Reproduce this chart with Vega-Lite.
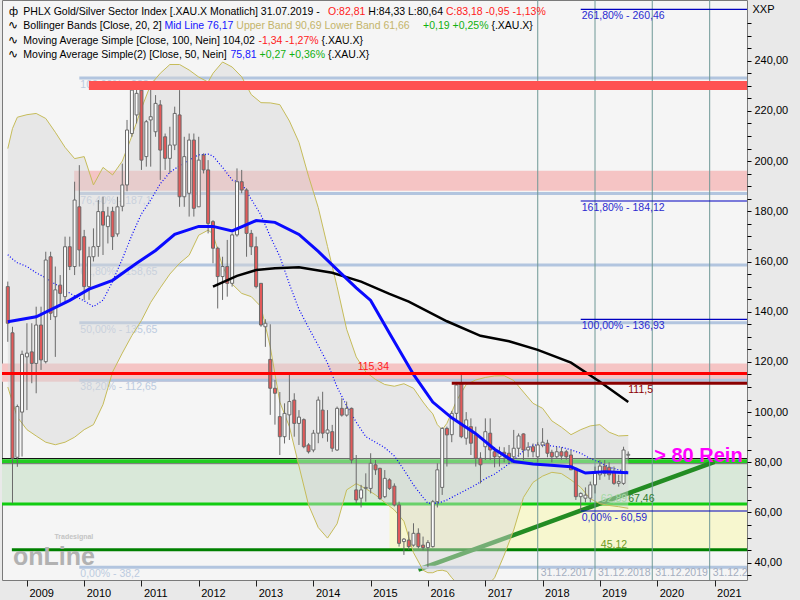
{
"$schema": "https://vega.github.io/schema/vega-lite/v6.json",
"width": 745, "height": 580,
"autosize": {"type": "none"},
"padding": {"left": 2, "top": 0, "right": 53, "bottom": 20},
"background": "#e9e9e9",
"config": {"font": "Liberation Sans", "view": {"fill": "#f5f5f5", "stroke": "#7a7a7a"}},
"resolve": {"axis": {"x": "independent", "y": "independent"}},
"datasets": {
"candles": [
{"t":"2008-09-01","o":150,"h":152,"l":128,"c":135.4},
{"t":"2008-10-01","o":131.6,"h":134,"l":63.7,"c":81.6},
{"t":"2008-11-01","o":82,"h":103,"l":78.2,"c":102.2},
{"t":"2008-12-01","o":100,"h":124.5,"l":82.3,"c":123},
{"t":"2009-01-01","o":122,"h":135.4,"l":100.8,"c":123.5},
{"t":"2009-02-01","o":124,"h":135.4,"l":111.5,"c":119.4},
{"t":"2009-03-01","o":119.4,"h":142,"l":107.5,"c":134.7},
{"t":"2009-04-01","o":134.7,"h":142,"l":116.8,"c":120.8},
{"t":"2009-05-01","o":120.1,"h":163.9,"l":119.4,"c":160.6},
{"t":"2009-06-01","o":161.9,"h":163.9,"l":136.7,"c":139.4},
{"t":"2009-07-01","o":138,"h":158,"l":122,"c":148.7},
{"t":"2009-08-01","o":150.6,"h":154.6,"l":143.3,"c":147.3},
{"t":"2009-09-01","o":146,"h":169.9,"l":143.3,"c":165.9},
{"t":"2009-10-01","o":165.9,"h":169.9,"l":156.6,"c":158},
{"t":"2009-11-01","o":158,"h":191.8,"l":154.6,"c":184.5},
{"t":"2009-12-01","o":181.8,"h":198.4,"l":158,"c":164.6},
{"t":"2010-01-01","o":169.9,"h":172.6,"l":144.7,"c":150},
{"t":"2010-02-01","o":150,"h":165.9,"l":144.7,"c":161.9},
{"t":"2010-03-01","o":161.9,"h":173.2,"l":160,"c":165.9},
{"t":"2010-04-01","o":166,"h":184.5,"l":161.9,"c":179.9},
{"t":"2010-05-01","o":179.9,"h":185.8,"l":162.6,"c":174.5},
{"t":"2010-06-01","o":173.9,"h":181.8,"l":167.2,"c":178.1},
{"t":"2010-07-01","o":180,"h":181.8,"l":164.6,"c":169.9},
{"t":"2010-08-01","o":171,"h":185.8,"l":169.9,"c":181.8},
{"t":"2010-09-01","o":182,"h":199,"l":180,"c":190.5},
{"t":"2010-10-01","o":190.5,"h":216.4,"l":188,"c":212.4},
{"t":"2010-11-01","o":211,"h":231,"l":209.7,"c":228.3},
{"t":"2010-12-01","o":218.4,"h":231.5,"l":215,"c":227},
{"t":"2011-01-01","o":228.3,"h":231,"l":196.5,"c":200.4},
{"t":"2011-02-01","o":201.8,"h":216.4,"l":197.8,"c":215.7},
{"t":"2011-03-01","o":216.4,"h":229.7,"l":197.8,"c":217.7},
{"t":"2011-04-01","o":211.7,"h":226.3,"l":209.7,"c":223},
{"t":"2011-05-01","o":222.4,"h":224.3,"l":192.5,"c":204.4},
{"t":"2011-06-01","o":209.7,"h":211,"l":196.5,"c":201.1},
{"t":"2011-07-01","o":201.1,"h":213.7,"l":195.1,"c":206.4},
{"t":"2011-08-01","o":206.4,"h":221.7,"l":204.4,"c":219},
{"t":"2011-09-01","o":218.4,"h":228.3,"l":181.8,"c":185.8},
{"t":"2011-10-01","o":185.8,"h":209.7,"l":181.8,"c":201.8},
{"t":"2011-11-01","o":187.2,"h":211,"l":177.9,"c":208.4},
{"t":"2011-12-01","o":208.4,"h":211,"l":177.9,"c":181.2},
{"t":"2012-01-01","o":181.8,"h":209.7,"l":181.8,"c":200.4},
{"t":"2012-02-01","o":202.4,"h":203.1,"l":195.1,"c":196.5},
{"t":"2012-03-01","o":196.5,"h":200.4,"l":171.2,"c":175.2},
{"t":"2012-04-01","o":175.9,"h":176.5,"l":159.3,"c":165.3},
{"t":"2012-05-01","o":165.3,"h":165.9,"l":141.3,"c":154},
{"t":"2012-06-01","o":154,"h":161.9,"l":144.7,"c":158},
{"t":"2012-07-01","o":158,"h":168.6,"l":146,"c":151.3},
{"t":"2012-08-01","o":151.3,"h":171.2,"l":150,"c":170.6},
{"t":"2012-09-01","o":170.6,"h":197.1,"l":169.9,"c":191.8},
{"t":"2012-10-01","o":191.8,"h":196.5,"l":187.2,"c":188.5},
{"t":"2012-11-01","o":188.5,"h":189.2,"l":161.9,"c":171.2},
{"t":"2012-12-01","o":171.2,"h":172.6,"l":162.6,"c":165.9},
{"t":"2013-01-01","o":165.9,"h":169.9,"l":149.3,"c":150},
{"t":"2013-02-01","o":151.3,"h":151.3,"l":134,"c":134.7},
{"t":"2013-03-01","o":134,"h":137,"l":126,"c":135.4},
{"t":"2013-04-01","o":121,"h":135,"l":98.9,"c":109.5},
{"t":"2013-05-01","o":109.5,"h":112.8,"l":95,"c":107.5},
{"t":"2013-06-01","o":98.2,"h":108,"l":82.9,"c":90.2},
{"t":"2013-07-01","o":90.2,"h":103.5,"l":87.5,"c":99.5},
{"t":"2013-08-01","o":98.9,"h":115.5,"l":88.9,"c":104.2},
{"t":"2013-09-01","o":104.8,"h":107.5,"l":90.2,"c":95.5},
{"t":"2013-10-01","o":95.5,"h":100.8,"l":86.9,"c":98},
{"t":"2013-11-01","o":97,"h":97.5,"l":85.6,"c":86.2},
{"t":"2013-12-01","o":86.9,"h":87.6,"l":83.5,"c":84.2},
{"t":"2014-01-01","o":84.9,"h":92.9,"l":84,"c":91.6},
{"t":"2014-02-01","o":91.6,"h":106.2,"l":87.6,"c":104.8},
{"t":"2014-03-01","o":100.8,"h":108.1,"l":89.6,"c":91.6},
{"t":"2014-04-01","o":91.6,"h":100.8,"l":88.2,"c":92.9},
{"t":"2014-05-01","o":92.2,"h":94.9,"l":84.2,"c":85.6},
{"t":"2014-06-01","o":84.9,"h":102.2,"l":84.5,"c":101.5},
{"t":"2014-07-01","o":101.5,"h":105.5,"l":98.2,"c":98.8},
{"t":"2014-08-01","o":98.8,"h":104.2,"l":98.2,"c":101.5},
{"t":"2014-09-01","o":101.5,"h":101.8,"l":79.6,"c":80.9},
{"t":"2014-10-01","o":69,"h":82.9,"l":63.7,"c":65},
{"t":"2014-11-01","o":65.7,"h":71,"l":62,"c":69},
{"t":"2014-12-01","o":69.6,"h":75.6,"l":64.3,"c":70},
{"t":"2015-01-01","o":69.6,"h":83.6,"l":67.6,"c":79.6},
{"t":"2015-02-01","o":79,"h":80.9,"l":75,"c":77},
{"t":"2015-03-01","o":77.6,"h":77.8,"l":65,"c":65.6},
{"t":"2015-04-01","o":66.3,"h":76.9,"l":65.7,"c":73.6},
{"t":"2015-05-01","o":73,"h":73.6,"l":69,"c":69.6},
{"t":"2015-06-01","o":70.5,"h":71.6,"l":62.4,"c":63},
{"t":"2015-07-01","o":63,"h":64.3,"l":46.4,"c":47.7},
{"t":"2015-08-01","o":48.4,"h":49.8,"l":43.1,"c":49.4},
{"t":"2015-09-01","o":49,"h":52.4,"l":45.1,"c":46.4},
{"t":"2015-10-01","o":47,"h":55.7,"l":46.4,"c":51.7},
{"t":"2015-11-01","o":51.7,"h":53.7,"l":45.7,"c":46.4},
{"t":"2015-12-01","o":47,"h":50.4,"l":45,"c":46},
{"t":"2016-01-01","o":46,"h":49,"l":38.2,"c":48},
{"t":"2016-02-01","o":46.4,"h":65,"l":46,"c":64.3},
{"t":"2016-03-01","o":64.3,"h":79.6,"l":62,"c":77},
{"t":"2016-04-01","o":70,"h":94,"l":67,"c":93.5},
{"t":"2016-05-01","o":93.5,"h":94.2,"l":78.3,"c":90.9},
{"t":"2016-06-01","o":91,"h":100.5,"l":88,"c":99.5},
{"t":"2016-07-01","o":99.5,"h":112,"l":97,"c":110.8},
{"t":"2016-08-01","o":111.5,"h":114.8,"l":89.6,"c":90.2},
{"t":"2016-09-01","o":89.6,"h":100,"l":87,"c":96.9},
{"t":"2016-10-01","o":94.2,"h":97.5,"l":82.9,"c":87.6},
{"t":"2016-11-01","o":90.9,"h":94.2,"l":78.3,"c":81.6},
{"t":"2016-12-01","o":81.6,"h":84,"l":71.6,"c":79},
{"t":"2017-01-01","o":86.2,"h":97.5,"l":80.9,"c":92.2},
{"t":"2017-02-01","o":91.6,"h":97.5,"l":80.9,"c":84.9},
{"t":"2017-03-01","o":84.2,"h":86,"l":78,"c":82.2},
{"t":"2017-04-01","o":82.2,"h":86.2,"l":78.3,"c":84},
{"t":"2017-05-01","o":84,"h":86,"l":80,"c":83.2},
{"t":"2017-06-01","o":83.6,"h":86.9,"l":79.6,"c":80.9},
{"t":"2017-07-01","o":82.2,"h":92.9,"l":80.9,"c":85.6},
{"t":"2017-08-01","o":85.6,"h":91.5,"l":82.2,"c":90.5},
{"t":"2017-09-01","o":91.3,"h":91.5,"l":80.9,"c":84.9},
{"t":"2017-10-01","o":84.9,"h":88,"l":82,"c":86},
{"t":"2017-11-01","o":86.2,"h":87.5,"l":82,"c":84.2},
{"t":"2017-12-01","o":82.2,"h":88,"l":80,"c":86.9},
{"t":"2018-01-01","o":86.9,"h":93.6,"l":86,"c":88},
{"t":"2018-02-01","o":87.6,"h":89,"l":82,"c":83.6},
{"t":"2018-03-01","o":84,"h":85,"l":80,"c":82.2},
{"t":"2018-04-01","o":82.2,"h":86.2,"l":81.6,"c":84.2},
{"t":"2018-05-01","o":84.2,"h":86,"l":81,"c":82.5},
{"t":"2018-06-01","o":84.2,"h":85,"l":81,"c":82.2},
{"t":"2018-07-01","o":82.9,"h":84.9,"l":76.9,"c":77},
{"t":"2018-08-01","o":77.6,"h":77.6,"l":65,"c":66.3},
{"t":"2018-09-01","o":66.3,"h":68,"l":60.59,"c":67.6},
{"t":"2018-10-01","o":65.7,"h":70,"l":64,"c":66.9},
{"t":"2018-11-01","o":65.7,"h":72.3,"l":64,"c":71},
{"t":"2018-12-01","o":71,"h":78.3,"l":67.6,"c":75.6},
{"t":"2019-01-01","o":75,"h":80.9,"l":73,"c":78.5},
{"t":"2019-02-01","o":78.5,"h":80.9,"l":74.3,"c":75.6},
{"t":"2019-03-01","o":78,"h":80,"l":73,"c":75},
{"t":"2019-04-01","o":76.3,"h":78.3,"l":71,"c":71.6},
{"t":"2019-05-01","o":71.6,"h":75,"l":70.3,"c":72.3},
{"t":"2019-06-01","o":71.6,"h":86.2,"l":71,"c":84.9},
{"t":"2019-07-01","o":82.81,"h":84.33,"l":80.64,"c":83.18}
],
"bb": [
{"t":"2008-09-01","up":205,"lo":110,"mid":162.7},
{"t":"2008-10-01","up":213,"lo":104,"mid":161},
{"t":"2008-11-01","up":217.5,"lo":98,"mid":159.5},
{"t":"2009-01-01","up":218.5,"lo":93,"mid":158},
{"t":"2009-03-01","up":219,"lo":90.5,"mid":155.5},
{"t":"2009-05-01","up":217,"lo":88,"mid":153.5},
{"t":"2009-07-01","up":211.5,"lo":87,"mid":151},
{"t":"2009-09-01","up":205.5,"lo":88,"mid":148.5},
{"t":"2009-11-01","up":201,"lo":90,"mid":146.3},
{"t":"2010-01-01","up":201.8,"lo":93,"mid":144.3},
{"t":"2010-03-01","up":190.5,"lo":95,"mid":142},
{"t":"2010-05-01","up":197.5,"lo":103,"mid":144.6},
{"t":"2010-07-01","up":194.5,"lo":116,"mid":152},
{"t":"2010-09-01","up":200,"lo":123.5,"mid":161},
{"t":"2010-11-01","up":210,"lo":130.5,"mid":170.5},
{"t":"2011-01-01","up":221,"lo":136.5,"mid":179},
{"t":"2011-03-01","up":230.5,"lo":143.7,"mid":184.5},
{"t":"2011-05-01","up":235,"lo":149.5,"mid":191},
{"t":"2011-07-01","up":238.5,"lo":155,"mid":195.5},
{"t":"2011-09-01","up":238.5,"lo":159.3,"mid":198.2},
{"t":"2011-11-01","up":236.3,"lo":162.5,"mid":200.5},
{"t":"2012-01-01","up":233.5,"lo":170.5,"mid":202.5},
{"t":"2012-03-01","up":231.5,"lo":172.5,"mid":202.8},
{"t":"2012-04-01","up":235,"lo":171,"mid":202},
{"t":"2012-06-01","up":239.5,"lo":158,"mid":197.5},
{"t":"2012-08-01","up":237.5,"lo":151,"mid":192.5},
{"t":"2012-10-01","up":233.6,"lo":147.3,"mid":191.2},
{"t":"2012-12-01","up":226.5,"lo":146,"mid":184.8},
{"t":"2013-02-01","up":223.3,"lo":142,"mid":178.5},
{"t":"2013-04-01","up":223.2,"lo":126,"mid":170},
{"t":"2013-06-01","up":222.5,"lo":104,"mid":162},
{"t":"2013-08-01","up":216,"lo":94.2,"mid":151},
{"t":"2013-10-01","up":207.5,"lo":78.5,"mid":141},
{"t":"2013-12-01","up":194,"lo":63,"mid":133.7},
{"t":"2014-02-01","up":181.5,"lo":54,"mid":126.5},
{"t":"2014-04-01","up":166,"lo":49.8,"mid":119.5},
{"t":"2014-06-01","up":150,"lo":55.5,"mid":110},
{"t":"2014-08-01","up":133,"lo":69,"mid":102.5},
{"t":"2014-10-01","up":122,"lo":71.5,"mid":96},
{"t":"2014-12-01","up":116,"lo":69.5,"mid":90.2},
{"t":"2015-02-01","up":113,"lo":67,"mid":88},
{"t":"2015-04-01","up":111,"lo":64,"mid":85.8},
{"t":"2015-06-01","up":110.3,"lo":61,"mid":82.5},
{"t":"2015-08-01","up":111.3,"lo":56.5,"mid":77},
{"t":"2015-10-01","up":109.5,"lo":44,"mid":71},
{"t":"2015-12-01","up":104,"lo":37,"mid":66},
{"t":"2016-01-01","up":101.5,"lo":36,"mid":63.7},
{"t":"2016-02-01","up":99.3,"lo":36,"mid":63.7},
{"t":"2016-03-01","up":95,"lo":36.8,"mid":63.7},
{"t":"2016-04-01","up":93,"lo":37,"mid":64.3},
{"t":"2016-05-01","up":95.5,"lo":36.5,"mid":65},
{"t":"2016-06-01","up":100,"lo":34,"mid":66},
{"t":"2016-07-01","up":104.5,"lo":32,"mid":67},
{"t":"2016-09-01","up":111,"lo":29,"mid":69},
{"t":"2016-11-01","up":112.8,"lo":28,"mid":71},
{"t":"2017-01-01","up":113.8,"lo":30,"mid":73.5},
{"t":"2017-03-01","up":114.4,"lo":34,"mid":75.3},
{"t":"2017-05-01","up":114.5,"lo":43,"mid":78},
{"t":"2017-07-01","up":112.6,"lo":53,"mid":80.9},
{"t":"2017-09-01","up":108,"lo":66,"mid":84.5},
{"t":"2017-11-01","up":103.5,"lo":72,"mid":86.9},
{"t":"2018-01-01","up":101.5,"lo":74.5,"mid":86.9},
{"t":"2018-03-01","up":96.5,"lo":76,"mid":86.5},
{"t":"2018-05-01","up":94,"lo":75.5,"mid":86},
{"t":"2018-07-01","up":91,"lo":73,"mid":85},
{"t":"2018-09-01","up":93,"lo":70,"mid":83.6},
{"t":"2018-11-01","up":94.5,"lo":65.5,"mid":81.5},
{"t":"2019-01-01","up":95,"lo":63.5,"mid":80},
{"t":"2019-03-01","up":92,"lo":62.8,"mid":78},
{"t":"2019-05-01","up":90.5,"lo":62.3,"mid":77},
{"t":"2019-07-01","up":90.69,"lo":61.66,"mid":76.17}
],
"sma50": [
{"t":"2008-09-01","v":136},{"t":"2009-03-01","v":138},{"t":"2009-10-01","v":144.5},{"t":"2010-02-01","v":149},
{"t":"2010-07-01","v":152.5},{"t":"2010-12-01","v":159.3},{"t":"2011-04-01","v":164.4},{"t":"2011-08-01","v":170.8},
{"t":"2012-01-01","v":174},{"t":"2012-04-01","v":174},{"t":"2012-08-01","v":172.2},{"t":"2013-01-01","v":176.3},
{"t":"2013-05-01","v":175.6},{"t":"2013-10-01","v":170.8},{"t":"2014-02-01","v":164},{"t":"2014-07-01","v":155},
{"t":"2014-10-01","v":149.5},{"t":"2015-01-01","v":144.5},{"t":"2015-05-01","v":131.4},{"t":"2015-10-01","v":115},
{"t":"2016-02-01","v":104},{"t":"2016-06-01","v":97.7},{"t":"2016-11-01","v":91.4},{"t":"2017-03-01","v":85.2},
{"t":"2017-07-01","v":80.3},{"t":"2017-11-01","v":79.3},{"t":"2018-02-01","v":78.9},{"t":"2018-07-01","v":78.2},
{"t":"2018-10-01","v":75.7},{"t":"2019-02-01","v":76.2},{"t":"2019-07-01","v":75.81}
],
"sma100": [
{"t":"2012-04-01","v":150},{"t":"2012-09-01","v":154.3},{"t":"2013-01-01","v":156.6},{"t":"2013-05-01","v":157.3},
{"t":"2013-10-01","v":157.7},{"t":"2014-05-01","v":155.5},{"t":"2014-11-01","v":152},{"t":"2015-05-01","v":147.1},
{"t":"2015-09-01","v":144},{"t":"2016-05-01","v":136.2},{"t":"2016-12-01","v":130.4},{"t":"2017-06-01","v":128.2},
{"t":"2017-12-01","v":124.8},{"t":"2018-07-01","v":119.7},{"t":"2019-01-01","v":112.1},{"t":"2019-07-01","v":104.02}
],
"trend": [{"t":"2015-11-01","v":37.2},{"t":"2021-01-01","v":80.2}],
"fib": [
{"lvl":233.1,"lab":"100,00% - 233,1"},{"lvl":187.1,"lab":"76,40% - 187,1"},{"lvl":158.65,"lab":"61,80% - 158,65"},
{"lvl":135.65,"lab":"50,00% - 135,65"},{"lvl":112.65,"lab":"38,20% - 112,65"},{"lvl":38.2,"lab":"0,00% - 38,2"}
],
"fibBlue": [
{"lvl":260.46,"lab":"261,80% - 260,46"},{"lvl":184.12,"lab":"161,80% - 184,12"},
{"lvl":136.93,"lab":"100,00% - 136,93"},{"lvl":60.59,"lab":"0,00% - 60,59"}
],
"vlines": [
{"t":"2017-12-01","lab":"31.12.2017"},{"t":"2018-12-01","lab":"31.12.2018"},
{"t":"2019-12-01","lab":"31.12.2019"},{"t":"2020-12-01","lab":"31.12.2020"}
]
},
"layer": [
{"data":{"values":[{}]},"mark":{"type":"rect","color":"#f7f7cf"},
 "encoding":{"x":{"datum":{"year":2015,"month":5,"date":1,"utc":true},"type":"temporal","axis":null},"x2":{"value":"width"},
 "y":{"datum":63.4,"type":"quantitative","axis":null},"y2":{"datum":45.12}}},
{"data":{"values":[{}]},"mark":{"type":"rect","color":"#d9e8d9"},
 "encoding":{"y":{"datum":79.5,"type":"quantitative","axis":null},"y2":{"datum":63.4}}},
{"data":{"values":[{}]},"mark":{"type":"rect","color":"#f5c4c4"},
 "encoding":{"y":{"datum":119.4,"type":"quantitative","axis":null},"y2":{"datum":112.1}}},
{"data":{"values":[{}]},"mark":{"type":"rect","color":"#f5c4c4"},
 "encoding":{"x":{"datum":{"year":2009,"month":10,"date":29,"utc":true},"type":"temporal","axis":null},"x2":{"value":"width"},
 "y":{"datum":196.2,"type":"quantitative","axis":null},"y2":{"datum":188.2}}},
{"data":{"values":[{}]},"mark":{"type":"rule","color":"#008000","strokeWidth":3},
 "encoding":{"x":{"datum":{"year":2008,"month":9,"date":27,"utc":true},"type":"temporal","axis":null},"x2":{"value":"width"},
 "y":{"datum":45.12,"type":"quantitative","axis":null}}},
{"data":{"values":[{}]},"mark":{"type":"rule","color":"#11cc11","strokeWidth":3},
 "encoding":{"y":{"datum":63.4,"type":"quantitative","axis":null}}},
{"data":{"values":[{}]},"mark":{"type":"rect","color":"#22cc22"},
 "encoding":{"y":{"datum":81.2,"type":"quantitative","axis":null},"y2":{"datum":79.6}}},
{"data":{"values":[{}]},"mark":{"type":"rule","color":"#111111","strokeWidth":1},
 "encoding":{"y":{"datum":81.5,"type":"quantitative","axis":null}}},
{"data":{"values":[{}]},"mark":{"type":"rule","color":"#707070","strokeWidth":1},
 "encoding":{"y":{"datum":79.45,"type":"quantitative","axis":null}}},
{"data":{"name":"trend"},"mark":{"type":"line","color":"#238c23","strokeWidth":4.5,"clip":true},
 "encoding":{"x":{"field":"t","type":"temporal","axis":null},"y":{"field":"v","type":"quantitative","axis":null}}},
{"data":{"name":"fib"},"mark":{"type":"rule","color":"#b2c5df","strokeWidth":3},
 "encoding":{"x":{"datum":{"year":2009,"month":12,"date":1,"utc":true},"type":"temporal","axis":null},"x2":{"value":"width"},
 "y":{"field":"lvl","type":"quantitative","axis":null}}},
{"data":{"name":"fib"},"mark":{"type":"text","align":"left","baseline":"top","dy":2,"dx":1,"fontSize":10.5,"color":"#bccbe0"},
 "encoding":{"x":{"datum":{"year":2009,"month":12,"date":1,"utc":true},"type":"temporal","axis":null},
 "y":{"field":"lvl","type":"quantitative","axis":null},"text":{"field":"lab"}}},
{"data":{"name":"bb"},"mark":{"type":"area","color":"#d8d8d8","opacity":0.45,"clip":true},
 "encoding":{"x":{"field":"t","type":"temporal","axis":null},"y":{"field":"lo","type":"quantitative","axis":null},"y2":{"field":"up"}}},
{"data":{"name":"bb"},"mark":{"type":"line","color":"#c6bc5a","strokeWidth":1,"clip":true},
 "encoding":{"x":{"field":"t","type":"temporal","axis":null},"y":{"field":"up","type":"quantitative","axis":null}}},
{"data":{"name":"bb"},"mark":{"type":"line","color":"#c6bc5a","strokeWidth":1,"clip":true},
 "encoding":{"x":{"field":"t","type":"temporal","axis":null},"y":{"field":"lo","type":"quantitative","axis":null}}},
{"data":{"name":"bb"},"mark":{"type":"line","color":"#0000ff","strokeWidth":1.2,"strokeDash":[1,2],"clip":true},
 "encoding":{"x":{"field":"t","type":"temporal","axis":null},"y":{"field":"mid","type":"quantitative","axis":null}}},
{"data":{"name":"vlines"},"mark":{"type":"rule","color":"#6e9896","strokeWidth":1},
 "encoding":{"x":{"field":"t","type":"temporal","axis":null}}},
{"data":{"name":"vlines"},"mark":{"type":"text","align":"left","baseline":"alphabetic","dx":3,"fontSize":10.5,"color":"#a4aec0","clip":true},
 "encoding":{"x":{"field":"t","type":"temporal","axis":null},"y":{"datum":34.8,"type":"quantitative","axis":null},"text":{"field":"lab"}}},
{"data":{"name":"candles"},"mark":{"type":"rule","color":"#6a6a6a","strokeWidth":1},
 "encoding":{
  "x":{"field":"t","type":"temporal","title":null,
   "scale":{"type":"utc","domain":[{"year":2008,"month":8,"date":27,"utc":true},{"year":2021,"month":6,"date":25,"utc":true}]},
   "axis":{"values":[{"year":2009,"month":1,"date":1,"utc":true},{"year":2010,"month":1,"date":1,"utc":true},{"year":2011,"month":1,"date":1,"utc":true},{"year":2012,"month":1,"date":1,"utc":true},{"year":2013,"month":1,"date":1,"utc":true},{"year":2014,"month":1,"date":1,"utc":true},{"year":2015,"month":1,"date":1,"utc":true},{"year":2016,"month":1,"date":1,"utc":true},{"year":2017,"month":1,"date":1,"utc":true},{"year":2018,"month":1,"date":1,"utc":true},{"year":2019,"month":1,"date":1,"utc":true},{"year":2020,"month":1,"date":1,"utc":true},{"year":2021,"month":1,"date":1,"utc":true}],
    "format":"%Y","labelAlign":"left","labelOffset":2,"labelPadding":1,"tickSize":6,"tickColor":"#202020","labelFontSize":11,"labelColor":"#000000","domain":false,"grid":false,"labelOverlap":false,"labelFlush":false,"labelBound":false}},
  "y":{"field":"l","type":"quantitative",
   "scale":{"domain":[33.1,264.2],"nice":false,"zero":false},
   "axis":{"orient":"right","values":[35,40,45,50,55,60,65,70,75,80,85,90,95,100,105,110,115,120,125,130,135,140,145,150,155,160,165,170,175,180,185,190,195,200,205,210,215,220,225,230,235,240,245,250,255],
    "labelExpr":"datum.value % 20 === 0 ? replace(format(datum.value, '.2f'), '.', ',') : ''",
    "tickSize":4,"tickColor":"#000000","labelPadding":3,"labelFontSize":11,"labelColor":"#000000","domain":false,"grid":false,
    "title":"XXP","titleAngle":0,"titleX":5,"titleY":3,"titleAlign":"left","titleBaseline":"top","titleFontSize":11,"titleFontWeight":"normal","titleColor":"#000000"}},
  "y2":{"field":"h"}}},
{"data":{"name":"candles"},"mark":{"type":"bar","width":3,"stroke":"#6a6a6a","strokeWidth":1},
 "encoding":{"x":{"field":"t","type":"temporal","axis":null},"y":{"field":"o","type":"quantitative","axis":null},"y2":{"field":"c"},
  "fill":{"condition":{"test":"datum.c < datum.o","value":"#e35a5a"},"value":"#fcfcfc"}}},
{"data":{"name":"sma100"},"mark":{"type":"line","color":"#000000","strokeWidth":2.5},
 "encoding":{"x":{"field":"t","type":"temporal","axis":null},"y":{"field":"v","type":"quantitative","axis":null}}},
{"data":{"name":"sma50"},"mark":{"type":"line","color":"#0a0aff","strokeWidth":3},
 "encoding":{"x":{"field":"t","type":"temporal","axis":null},"y":{"field":"v","type":"quantitative","axis":null}}},
{"data":{"values":[{}]},"mark":{"type":"rule","color":"#ff0000","strokeWidth":3},
 "encoding":{"y":{"datum":115.34,"type":"quantitative","axis":null}}},
{"data":{"values":[{}]},"mark":{"type":"rule","color":"#8b0000","strokeWidth":3},
 "encoding":{"x":{"datum":{"year":2016,"month":6,"date":1,"utc":true},"type":"temporal","axis":null},"x2":{"value":"width"},
 "y":{"datum":111.5,"type":"quantitative","axis":null}}},
{"data":{"values":[{}]},"mark":{"type":"rect","color":"#ff5252"},
 "encoding":{"x":{"datum":{"year":2010,"month":1,"date":31,"utc":true},"type":"temporal","axis":null},"x2":{"value":"width"},
 "y":{"datum":231.9,"type":"quantitative","axis":null},"y2":{"datum":228.3}}},
{"data":{"name":"fibBlue"},"mark":{"type":"rule","color":"#0000c0","strokeWidth":1.2},
 "encoding":{"x":{"datum":{"year":2018,"month":9,"date":1,"utc":true},"type":"temporal","axis":null},"x2":{"value":"width"},
 "y":{"field":"lvl","type":"quantitative","axis":null}}},
{"data":{"name":"fibBlue"},"mark":{"type":"text","align":"left","baseline":"top","dy":2,"dx":1,"fontSize":10.5,"color":"#2a2ad0"},
 "encoding":{"x":{"datum":{"year":2018,"month":9,"date":1,"utc":true},"type":"temporal","axis":null},
 "y":{"field":"lvl","type":"quantitative","axis":null},"text":{"field":"lab"}}},
{"data":{"values":[{}]},"mark":{"type":"text","text":"115,34","align":"center","baseline":"alphabetic","dy":-4,"fontSize":10.5,"color":"#ff2020"},
 "encoding":{"x":{"datum":{"year":2015,"month":1,"date":18,"utc":true},"type":"temporal","axis":null},"y":{"datum":115.34,"type":"quantitative","axis":null}}},
{"data":{"values":[{}]},"mark":{"type":"text","text":"111,5","align":"left","baseline":"alphabetic","dy":10,"fontSize":10.5,"color":"#8b0000"},
 "encoding":{"x":{"datum":{"year":2019,"month":7,"date":1,"utc":true},"type":"temporal","axis":null},"y":{"datum":111.5,"type":"quantitative","axis":null}}},
{"data":{"values":[{}]},"mark":{"type":"text","text":"62,89","align":"left","baseline":"alphabetic","dy":-1.5,"dx":1,"fontSize":10.5,"color":"#a6daa6"},
 "encoding":{"x":{"datum":{"year":2019,"month":1,"date":1,"utc":true},"type":"temporal","axis":null},"y":{"datum":63.4,"type":"quantitative","axis":null}}},
{"data":{"values":[{}]},"mark":{"type":"text","text":"67,46","align":"left","baseline":"alphabetic","dy":-1.5,"fontSize":10.5,"color":"#2e7b2e"},
 "encoding":{"x":{"datum":{"year":2019,"month":7,"date":1,"utc":true},"type":"temporal","axis":null},"y":{"datum":63.4,"type":"quantitative","axis":null}}},
{"data":{"values":[{}]},"mark":{"type":"text","text":"45,12","align":"left","baseline":"alphabetic","dy":-2,"dx":1,"fontSize":10.5,"color":"#6e9a1e"},
 "encoding":{"x":{"datum":{"year":2019,"month":1,"date":1,"utc":true},"type":"temporal","axis":null},"y":{"datum":45.12,"type":"quantitative","axis":null}}},
{"data":{"values":[{}]},"mark":{"type":"text","text":"> 80 Rein","align":"left","baseline":"alphabetic","dx":2,"fontSize":20,"fontWeight":"bold","color":"#ff00ff"},
 "encoding":{"x":{"datum":{"year":2019,"month":12,"date":1,"utc":true},"type":"temporal","axis":null},"y":{"datum":80.1,"type":"quantitative","axis":null}}},
{"data":{"values":[{}]},"mark":{"type":"text","text":"onLine","align":"left","baseline":"alphabetic","fontSize":25,"fontWeight":"bold","color":"#b2b2b2"},
 "encoding":{"x":{"datum":{"year":2008,"month":10,"date":4,"utc":true},"type":"temporal","axis":null},"y":{"datum":39,"type":"quantitative","axis":null}}},
{"data":{"values":[{}]},"mark":{"type":"text","text":"Tradesignal","align":"left","baseline":"alphabetic","fontSize":7,"fontWeight":"bold","color":"#c4c4c4"},
 "encoding":{"x":{"datum":{"year":2009,"month":6,"date":25,"utc":true},"type":"temporal","axis":null},"y":{"datum":49.3,"type":"quantitative","axis":null}}},
{"data":{"values":[{}]},"mark":{"type":"text","text":"ф","align":"left","baseline":"alphabetic","dx":2,"fontSize":11,"color":"#000000"},
 "encoding":{"x":{"datum":{"year":2008,"month":8,"date":27,"utc":true},"type":"temporal","axis":null},"y":{"datum":258.2,"type":"quantitative","axis":null}}},
{"data":{"values":[{}]},"mark":{"type":"text","text":"PHLX Gold/Silver Sector Index [.XAU.X  Monatlich] 31.07.2019 -","align":"left","baseline":"alphabetic","dx":16.3,"fontSize":10.5,"color":"#000000"},
 "encoding":{"x":{"datum":{"year":2008,"month":8,"date":27,"utc":true},"type":"temporal","axis":null},"y":{"datum":258.2,"type":"quantitative","axis":null}}},
{"data":{"values":[{}]},"mark":{"type":"text","text":"O:82,81","align":"left","baseline":"alphabetic","dx":321,"fontSize":10.5,"color":"#ff1a1a"},
 "encoding":{"x":{"datum":{"year":2008,"month":8,"date":27,"utc":true},"type":"temporal","axis":null},"y":{"datum":258.2,"type":"quantitative","axis":null}}},
{"data":{"values":[{}]},"mark":{"type":"text","text":"H:84,33 L:80,64","align":"left","baseline":"alphabetic","dx":361.3,"fontSize":10.5,"color":"#000000"},
 "encoding":{"x":{"datum":{"year":2008,"month":8,"date":27,"utc":true},"type":"temporal","axis":null},"y":{"datum":258.2,"type":"quantitative","axis":null}}},
{"data":{"values":[{}]},"mark":{"type":"text","text":"C:83,18 -0,95 -1,13%","align":"left","baseline":"alphabetic","dx":438.9,"fontSize":10.5,"color":"#ff1a1a"},
 "encoding":{"x":{"datum":{"year":2008,"month":8,"date":27,"utc":true},"type":"temporal","axis":null},"y":{"datum":258.2,"type":"quantitative","axis":null}}},
{"data":{"values":[{}]},"mark":{"type":"text","text":"∿","align":"left","baseline":"alphabetic","dx":1,"fontSize":12,"color":"#000000"},
 "encoding":{"x":{"datum":{"year":2008,"month":8,"date":27,"utc":true},"type":"temporal","axis":null},"y":{"datum":252.5,"type":"quantitative","axis":null}}},
{"data":{"values":[{}]},"mark":{"type":"text","text":"Bollinger Bands [Close, 20, 2]","align":"left","baseline":"alphabetic","dx":16.3,"fontSize":10.5,"color":"#000000"},
 "encoding":{"x":{"datum":{"year":2008,"month":8,"date":27,"utc":true},"type":"temporal","axis":null},"y":{"datum":252.5,"type":"quantitative","axis":null}}},
{"data":{"values":[{}]},"mark":{"type":"text","text":"Mid Line 76,17","align":"left","baseline":"alphabetic","dx":157.5,"fontSize":10.5,"color":"#1414ff"},
 "encoding":{"x":{"datum":{"year":2008,"month":8,"date":27,"utc":true},"type":"temporal","axis":null},"y":{"datum":252.5,"type":"quantitative","axis":null}}},
{"data":{"values":[{}]},"mark":{"type":"text","text":"Upper Band 90,69 Lower Band 61,66","align":"left","baseline":"alphabetic","dx":229.3,"fontSize":10.5,"color":"#c4b46a"},
 "encoding":{"x":{"datum":{"year":2008,"month":8,"date":27,"utc":true},"type":"temporal","axis":null},"y":{"datum":252.5,"type":"quantitative","axis":null}}},
{"data":{"values":[{}]},"mark":{"type":"text","text":"+0,19 +0,25%","align":"left","baseline":"alphabetic","dx":416.1,"fontSize":10.5,"color":"#10b010"},
 "encoding":{"x":{"datum":{"year":2008,"month":8,"date":27,"utc":true},"type":"temporal","axis":null},"y":{"datum":252.5,"type":"quantitative","axis":null}}},
{"data":{"values":[{}]},"mark":{"type":"text","text":"{.XAU.X}","align":"left","baseline":"alphabetic","dx":484.4,"fontSize":10.5,"color":"#000000"},
 "encoding":{"x":{"datum":{"year":2008,"month":8,"date":27,"utc":true},"type":"temporal","axis":null},"y":{"datum":252.5,"type":"quantitative","axis":null}}},
{"data":{"values":[{}]},"mark":{"type":"text","text":"∿","align":"left","baseline":"alphabetic","dx":1,"fontSize":12,"color":"#000000"},
 "encoding":{"x":{"datum":{"year":2008,"month":8,"date":27,"utc":true},"type":"temporal","axis":null},"y":{"datum":246.5,"type":"quantitative","axis":null}}},
{"data":{"values":[{}]},"mark":{"type":"text","text":"Moving Average Simple [Close, 100, Nein] 104,02","align":"left","baseline":"alphabetic","dx":16.3,"fontSize":10.5,"color":"#000000"},
 "encoding":{"x":{"datum":{"year":2008,"month":8,"date":27,"utc":true},"type":"temporal","axis":null},"y":{"datum":246.5,"type":"quantitative","axis":null}}},
{"data":{"values":[{}]},"mark":{"type":"text","text":"-1,34 -1,27%","align":"left","baseline":"alphabetic","dx":251.5,"fontSize":10.5,"color":"#ff1a1a"},
 "encoding":{"x":{"datum":{"year":2008,"month":8,"date":27,"utc":true},"type":"temporal","axis":null},"y":{"datum":246.5,"type":"quantitative","axis":null}}},
{"data":{"values":[{}]},"mark":{"type":"text","text":"{.XAU.X}","align":"left","baseline":"alphabetic","dx":314.5,"fontSize":10.5,"color":"#000000"},
 "encoding":{"x":{"datum":{"year":2008,"month":8,"date":27,"utc":true},"type":"temporal","axis":null},"y":{"datum":246.5,"type":"quantitative","axis":null}}},
{"data":{"values":[{}]},"mark":{"type":"text","text":"∿","align":"left","baseline":"alphabetic","dx":1,"fontSize":12,"color":"#000000"},
 "encoding":{"x":{"datum":{"year":2008,"month":8,"date":27,"utc":true},"type":"temporal","axis":null},"y":{"datum":241.0,"type":"quantitative","axis":null}}},
{"data":{"values":[{}]},"mark":{"type":"text","text":"Moving Average Simple(2) [Close, 50, Nein]","align":"left","baseline":"alphabetic","dx":16.3,"fontSize":10.5,"color":"#000000"},
 "encoding":{"x":{"datum":{"year":2008,"month":8,"date":27,"utc":true},"type":"temporal","axis":null},"y":{"datum":241.0,"type":"quantitative","axis":null}}},
{"data":{"values":[{}]},"mark":{"type":"text","text":"75,81","align":"left","baseline":"alphabetic","dx":223.4,"fontSize":10.5,"color":"#1414ff"},
 "encoding":{"x":{"datum":{"year":2008,"month":8,"date":27,"utc":true},"type":"temporal","axis":null},"y":{"datum":241.0,"type":"quantitative","axis":null}}},
{"data":{"values":[{}]},"mark":{"type":"text","text":"+0,27 +0,36%","align":"left","baseline":"alphabetic","dx":252.6,"fontSize":10.5,"color":"#10b010"},
 "encoding":{"x":{"datum":{"year":2008,"month":8,"date":27,"utc":true},"type":"temporal","axis":null},"y":{"datum":241.0,"type":"quantitative","axis":null}}},
{"data":{"values":[{}]},"mark":{"type":"text","text":"{.XAU.X}","align":"left","baseline":"alphabetic","dx":320.9,"fontSize":10.5,"color":"#000000"},
 "encoding":{"x":{"datum":{"year":2008,"month":8,"date":27,"utc":true},"type":"temporal","axis":null},"y":{"datum":241.0,"type":"quantitative","axis":null}}}
]
}
